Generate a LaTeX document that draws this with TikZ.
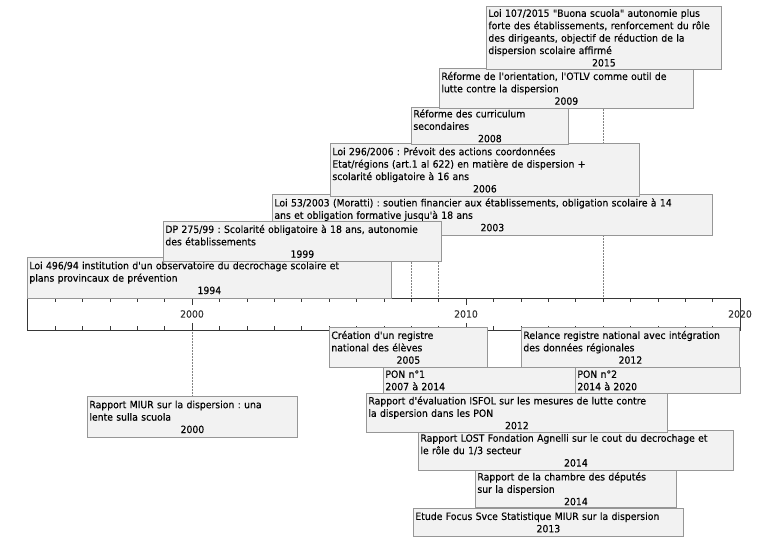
\documentclass[tikz,border=0pt]{standalone}
\usepackage{fontspec}
\setmainfont{DejaVu Sans}[FakeStretch=0.93,FakeBold=0.2,Ligatures=TeXOff]
\usetikzlibrary{positioning}

\definecolor{boxfill}{RGB}{242,242,242}
\definecolor{boxline}{RGB}{150,150,150}
\definecolor{axisline}{RGB}{55,55,55}
\definecolor{guideline}{RGB}{130,130,130}

\newcommand\evtfont{\fontsize{10}{12.4}\selectfont\frenchspacing}
\newcommand\yrline[1]{\\\hbox to\hsize{\hfil#1\hfil}}

\pgfdeclarelayer{background}
\pgfsetlayers{background,main}

\tikzset{
  evt/.style={draw=boxline, fill=boxfill, anchor=north west, align=left,
    inner xsep=2pt, inner ysep=0.5pt, font=\evtfont, text=black, line width=0.8pt},
  evtsize/.style 2 args={text width=#1, minimum height=#2},
  guide/.style={draw=guideline, densely dotted, line width=0.5pt},
  axislbl/.style={font=\evtfont, text=axisline, inner sep=0pt},
}

\begin{document}
\begin{tikzpicture}[x=1pt,y=-1pt]
  \useasboundingbox (0,0) rectangle (768,544);

  % time axis
  \draw[axisline, line width=0.8pt] (27,298) rectangle (740,330);
  \foreach \yr in {1995,...,2019}
  {
    \draw[axisline, line width=0.6pt] ({192+(\yr-2000)*27.4},298) -- ++(0,4);
    \draw[axisline, line width=0.6pt] ({192+(\yr-2000)*27.4},330) -- ++(0,-4);
  }
  \foreach \yr in {2000,2010}
  {
    \draw[axisline, line width=0.6pt] ({192+(\yr-2000)*27.4},298) -- ++(0,7);
    \draw[axisline, line width=0.6pt] ({192+(\yr-2000)*27.4},330) -- ++(0,-7);
  }
  \node[axislbl] (l2000) at (192,314) {2000};
  \node[axislbl] (l2010) at (466,314) {2010};
  \node[axislbl] (l2020) at (740,314) {2020};

  \coordinate (t2000) at (192,330);
  \coordinate (t2008) at (411.2,298);
  \coordinate (t2009) at (438.6,298);
  \coordinate (t2015) at (603,298);

  % events above the axis
  \node[evt, evtsize={360pt}{41pt}] (b1994) at (27,257)
    {Loi 496/94 institution d'un observatoire du decrochage scolaire et\\
     plans provincaux de prévention\yrline{1994}};
  \node[evt, evtsize={436pt}{41pt}] (b2003) at (272,194)
    {Loi 53/2003 (Moratti) : soutien financier aux établissements, obligation scolaire à 14\\
     ans et obligation formative jusqu'à 18 ans\yrline{2003}};
  \node[evt, evtsize={274pt}{40pt}] (b1999) at (163,221)
    {DP 275/99 : Scolarité obligatoire à 18 ans, autonomie\\
     des établissements\yrline{1999}};
  \node[evt, evtsize={305pt}{53pt}] (b2006) at (330,143)
    {Loi 296/2006 : Prévoit des actions coordonnées\\
     Etat/régions (art.1 al 622) en matière de dispersion +\\
     scolarité obligatoire à 16 ans\yrline{2006}};
  \node[evt, evtsize={153pt}{37pt}] (b2008) at (411,107)
    {Réforme des curriculum\\
     secondaires\yrline{2008}};
  \node[evt, evtsize={250pt}{40pt}] (b2009) at (439,68)
    {Réforme de l'orientation, l'OTLV comme outil de\\
     lutte contre la dispersion\yrline{2009}};
  \node[evt, evtsize={231pt}{63pt}] (b2015) at (486,6)
    {Loi 107/2015 "Buona scuola" autonomie plus\\
     forte des établissements, renforcement du rôle\\
     des dirigeants, objectif de réduction de la\\
     dispersion scolaire affirmé\yrline{2015}};

  % events below the axis
  \node[evt, evtsize={206pt}{41pt}] (miur) at (87,396)
    {Rapport MIUR sur la dispersion : una\\
     lente sulla scuola\yrline{2000}};
  \node[evt, evtsize={266pt}{28pt}] (focus) at (413,508)
    {Etude Focus Svce Statistique MIUR sur la dispersion\yrline{2013}};
  \node[evt, evtsize={197pt}{37pt}] (chamb) at (475,470)
    {Rapport de la chambre des députés\\
     sur la dispersion\yrline{2014}};
  \node[evt, evtsize={311pt}{40pt}] (lost) at (418,430)
    {Rapport LOST Fondation Agnelli sur le cout du decrochage et\\
     le rôle du 1/3 secteur\yrline{2014}};
  \node[evt, evtsize={297pt}{39pt}] (isfol) at (366,393)
    {Rapport d'évaluation ISFOL sur les mesures de lutte contre\\
     la dispersion dans les PON\yrline{2012}};
  \node[evt, evtsize={188pt}{26pt}] (pon1) at (383,367)
    {PON n°1\\
     2007 à 2014};
  \node[evt, evtsize={161pt}{26pt}] (pon2) at (575,367)
    {PON n°2\\
     2014 à 2020};
  \node[evt, evtsize={154pt}{40pt}] (b2005) at (329,327)
    {Création d'un registre\\
     national des élèves\yrline{2005}};
  \node[evt, evtsize={214pt}{40pt}] (b2012) at (521,327)
    {Relance registre national avec intégration\\
     des données régionales\yrline{2012}};

  % guides from the events to the axis
  \begin{pgfonlayer}{background}
    \draw[guide] (b2015.south -| t2015) -- (t2015);
    \draw[guide] (b2009.south -| t2009) -- (t2009);
    \draw[guide] (b2008.south -| t2008) -- (t2008);
    \draw[guide] (t2000) -- (miur.north -| t2000);
  \end{pgfonlayer}
\end{tikzpicture}
\end{document}
